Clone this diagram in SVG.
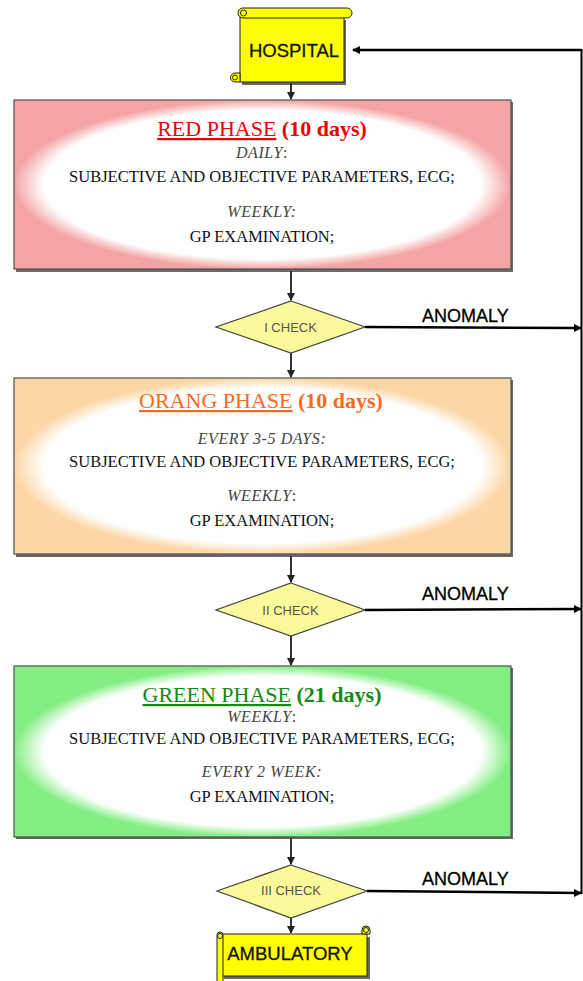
<svg xmlns="http://www.w3.org/2000/svg" width="583" height="981" viewBox="0 0 583 981">
<defs>
<style>
.box{stroke:#505050;stroke-width:1.2}
.shadow{fill:#6a6a6a}
.title{font-family:"Liberation Serif","Times New Roman",serif;font-size:22px;text-anchor:middle}
.body{font-family:"Liberation Serif","Times New Roman",serif;font-size:16.5px;text-anchor:middle;fill:#111}
.ital{font-family:"Liberation Serif","Times New Roman",serif;font-size:16px;font-style:italic;text-anchor:middle;fill:#444;letter-spacing:0.6px}
.dia{fill:#fafa9a;stroke:#444;stroke-width:1.2}
.chk{font-family:"Liberation Sans",Arial,sans-serif;font-size:13px;text-anchor:middle;fill:#555}
.anom{font-family:"Liberation Sans",Arial,sans-serif;font-size:18px;fill:#000;stroke:#000;stroke-width:0.3}
.scroll{fill:#ffff00;stroke:#222;stroke-width:1}
.slabel{font-family:"Liberation Sans",Arial,sans-serif;font-size:18.5px;fill:#111;stroke:#111;stroke-width:0.3;text-anchor:middle}
.flow{stroke:#333;stroke-width:2;fill:none}
.anl{stroke:#000;stroke-width:2.5;fill:none}
</style>
<radialGradient id="gRed" cx="0.5" cy="0.5" r="0.5">
<stop offset="0" stop-color="#fff"/><stop offset="0.88" stop-color="#fff"/><stop offset="1" stop-color="#f4a4a4"/>
</radialGradient>
<radialGradient id="gOr" cx="0.5" cy="0.5" r="0.5">
<stop offset="0" stop-color="#fff"/><stop offset="0.88" stop-color="#fff"/><stop offset="1" stop-color="#fcd6a4"/>
</radialGradient>
<radialGradient id="gGr" cx="0.5" cy="0.5" r="0.5">
<stop offset="0" stop-color="#fff"/><stop offset="0.88" stop-color="#fff"/><stop offset="1" stop-color="#84ee84"/>
</radialGradient>
<marker id="arD" markerWidth="8" markerHeight="8" refX="7" refY="4" orient="auto" markerUnits="userSpaceOnUse">
<path d="M0,0 L8,4 L0,8 Z" fill="#222"/>
</marker>
<marker id="arA" markerWidth="8" markerHeight="8" refX="7" refY="4" orient="auto" markerUnits="userSpaceOnUse">
<path d="M0,0 L8,4 L0,8 Z" fill="#000"/>
</marker>
</defs>

<g id="hospital">
<rect class="shadow" x="242" y="20" width="104" height="65"/>
<rect class="scroll" x="240" y="17" width="104" height="65"/>
<rect class="scroll" x="238" y="8" width="114" height="10" rx="5"/>
<circle class="scroll" cx="243.5" cy="13" r="3"/>
<path class="scroll" d="M240,73 L235,73 A4.5,4.5 0 0 0 235,82 L240,82 Z"/>
<circle class="scroll" cx="235" cy="77.5" r="2.5"/>
<text class="slabel" x="294" y="57">HOSPITAL</text>
</g>

<g id="red-phase">
<rect class="shadow" x="16" y="102" width="497" height="170"/>
<rect class="box" x="14" y="100" width="497" height="169" fill="url(#gRed)"/>
<text class="title" x="262" y="136"><tspan fill="#ee0000" text-decoration="underline">RED PHASE</tspan><tspan fill="#ee0000" font-weight="bold"> (10 days)</tspan></text>
<text class="ital" x="262" y="158">DAILY<tspan font-style="normal">:</tspan></text>
<text class="body" x="262" y="182">SUBJECTIVE AND OBJECTIVE PARAMETERS, ECG;</text>
<text class="ital" x="262" y="217">WEEKLY:</text>
<text class="body" x="262" y="242">GP EXAMINATION;</text>
</g>

<g id="check-1">
<polygon class="dia" points="291,301 365,327 291,353 216,327"/>
<text class="chk" x="290.5" y="332">I CHECK</text>
</g>

<g id="orange-phase">
<rect class="shadow" x="16" y="380" width="497" height="177"/>
<rect class="box" x="14" y="378" width="497" height="176" fill="url(#gOr)"/>
<text class="title" x="261" y="408"><tspan fill="#f86a1e" text-decoration="underline">ORANG PHASE</tspan><tspan fill="#f86a1e" font-weight="bold"> (10 days)</tspan></text>
<text class="ital" x="262" y="444">EVERY 3-5 DAYS:</text>
<text class="body" x="262" y="467">SUBJECTIVE AND OBJECTIVE PARAMETERS, ECG;</text>
<text class="ital" x="262" y="501">WEEKLY<tspan font-style="normal">:</tspan></text>
<text class="body" x="262" y="526">GP EXAMINATION;</text>
</g>

<g id="check-2">
<polygon class="dia" points="291,583 365,610 291,636 216,610"/>
<text class="chk" x="290.5" y="615">II CHECK</text>
</g>

<g id="green-phase">
<rect class="shadow" x="16" y="668" width="497" height="171"/>
<rect class="box" x="14" y="666" width="497" height="171" fill="url(#gGr)"/>
<text class="title" x="262" y="702"><tspan fill="#148a14" text-decoration="underline">GREEN PHASE</tspan><tspan fill="#148a14" font-weight="bold"> (21 days)</tspan></text>
<text class="ital" x="262" y="722">WEEKLY<tspan font-style="normal">:</tspan></text>
<text class="body" x="262" y="744">SUBJECTIVE AND OBJECTIVE PARAMETERS, ECG;</text>
<text class="ital" x="262" y="777">EVERY 2 WEEK:</text>
<text class="body" x="262" y="802">GP EXAMINATION;</text>
</g>

<g id="check-3">
<polygon class="dia" points="291,865 367,891 291,918 217,891"/>
<text class="chk" x="291" y="895">III CHECK</text>
</g>

<g id="ambulatory">
<rect class="shadow" x="224" y="937" width="146" height="42"/>
<rect class="scroll" x="221" y="934" width="146" height="42"/>
<path class="scroll" d="M362,934 L362,930 A4,4 0 0 1 370,930 L370,934 Z"/>
<circle class="scroll" cx="366" cy="930" r="2.5"/>
<rect class="scroll" x="217" y="932" width="6" height="52" rx="3"/>
<circle class="scroll" cx="220" cy="936" r="2.5"/>
<text class="slabel" x="290" y="960">AMBULATORY</text>
</g>

<g id="connectors">
<line class="flow" x1="291" y1="83" x2="291" y2="99" marker-end="url(#arD)"/>
<line class="flow" x1="291" y1="271" x2="291" y2="300" marker-end="url(#arD)"/>
<line class="flow" x1="291" y1="353" x2="291" y2="377" marker-end="url(#arD)"/>
<line class="flow" x1="291" y1="556" x2="291" y2="582" marker-end="url(#arD)"/>
<line class="flow" x1="291" y1="636" x2="291" y2="665" marker-end="url(#arD)"/>
<line class="flow" x1="291" y1="838" x2="291" y2="864" marker-end="url(#arD)"/>
<line class="flow" x1="291" y1="918" x2="291" y2="933" marker-end="url(#arD)"/>
<line class="anl" x1="365" y1="327" x2="581" y2="328" marker-end="url(#arA)"/>
<line class="anl" x1="365" y1="610" x2="581" y2="609" marker-end="url(#arA)"/>
<line class="anl" x1="367" y1="891" x2="581" y2="893" marker-end="url(#arA)"/>
<line stroke="#000" stroke-width="2" x1="581.5" y1="49" x2="581.5" y2="894"/>
<line class="anl" x1="581" y1="50" x2="353" y2="50" marker-end="url(#arA)"/>
<text class="anom" x="422" y="322">ANOMALY</text>
<text class="anom" x="422" y="600">ANOMALY</text>
<text class="anom" x="422" y="885">ANOMALY</text>
</g>
</svg>
